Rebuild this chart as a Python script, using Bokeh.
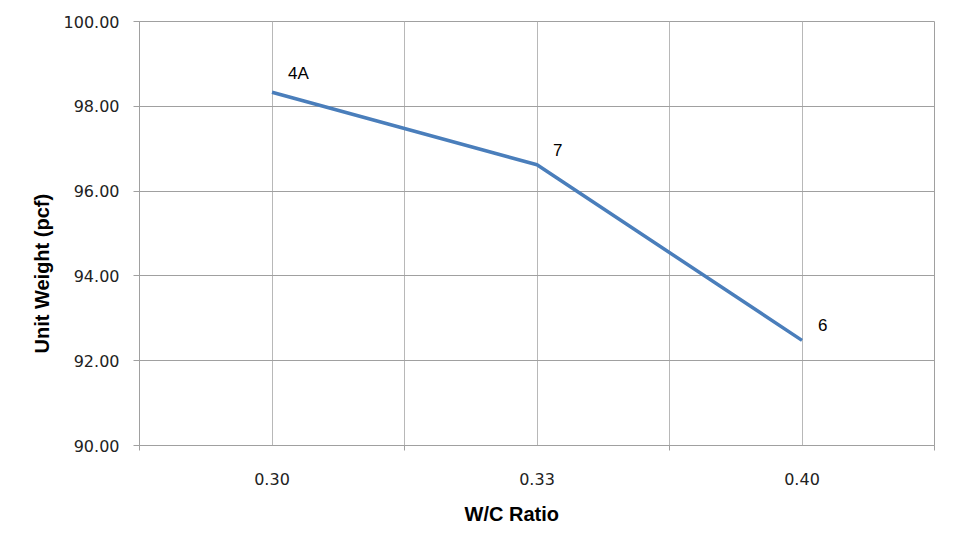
from bokeh.plotting import figure
from bokeh.models import ColumnDataSource, FixedTicker, Range1d, Title
from bokeh.core.properties import value
from bokeh.embed import file_html
from bokeh.resources import INLINE

# data
categories = ["0.30", "0.33", "0.40"]
unit_weight = [98.33, 96.62, 92.48]
point_labels = ["4A", "7", "6"]
y_ticks = [90, 92, 94, 96, 98, 100]

xpos = [i + 0.5 for i in range(len(categories))]
src = ColumnDataSource(dict(x=xpos, y=unit_weight, lab=point_labels))

p = figure(frame_width=795, frame_height=424,
           min_border_left=139, min_border_right=3, min_border_top=21, min_border_bottom=95,
           x_range=Range1d(0, len(categories)), y_range=Range1d(90, 100),
           output_backend="svg", toolbar_location=None)
p.background_fill_color = "white"
p.border_fill_color = "white"
p.outline_line_color = "#a0a0a0"
p.outline_line_width = 1
p.styles = {"box-shadow": "-3px -3px 0px -1px #8a8a8a"}

p.line("x", "y", source=src, line_color="#4a7ebb", line_width=3.5)
p.text("x", "y", text="lab", source=src, x_offset=16, y_offset=-9,
       text_font=value("Liberation Sans"), text_font_size=value("17px"),
       text_color="black", text_baseline="bottom", text_align="left")

# x axis
xa = p.xaxis[0]
xa.ticker = FixedTicker(ticks=xpos, minor_ticks=[float(i) for i in range(len(categories) + 1)])
xa.major_label_overrides = {x: c for x, c in zip(xpos, categories)}
xa.major_tick_out = 0
xa.major_tick_in = 0
xa.minor_tick_out = 5
xa.minor_tick_in = 0
xa.minor_tick_line_color = "#a0a0a0"
xa.axis_line_color = "#a0a0a0"
xa.major_label_standoff = 22
xa.major_label_text_font = "DejaVu Sans"
xa.major_label_text_font_size = "16px"
xa.major_label_text_color = "#222222"

# y axis
ya = p.yaxis[0]
ya.ticker = FixedTicker(ticks=y_ticks)
ya.major_label_overrides = {t: f"{t:.2f}" for t in y_ticks}
ya.major_tick_out = 6
ya.major_tick_in = 0
ya.minor_tick_out = 0
ya.minor_tick_in = 0
ya.major_tick_line_color = "#a0a0a0"
ya.axis_line_color = "#a0a0a0"
ya.major_label_standoff = 14
ya.major_label_text_font = "DejaVu Sans"
ya.major_label_text_font_size = "16px"
ya.major_label_text_color = "#222222"

# grids
p.xgrid.ticker = FixedTicker(ticks=[i * 0.5 for i in range(2 * len(categories) + 1)])
p.xgrid.grid_line_color = "#b8b8b8"
p.ygrid.ticker = FixedTicker(ticks=y_ticks)
p.ygrid.grid_line_color = "#a0a0a0"

# axis titles
p.add_layout(Title(text="W/C Ratio", align="left", offset=325, standoff=26,
                   text_font="Liberation Sans", text_font_style="bold", text_font_size="20px",
                   text_color="black"), "below")
p.add_layout(Title(text="Unit Weight (pcf)", align="left", offset=92, standoff=16,
                   text_font="Liberation Sans", text_font_style="bold", text_font_size="20px",
                   text_color="black"), "left")

open("out.html", "w").write(file_html(p, INLINE))
